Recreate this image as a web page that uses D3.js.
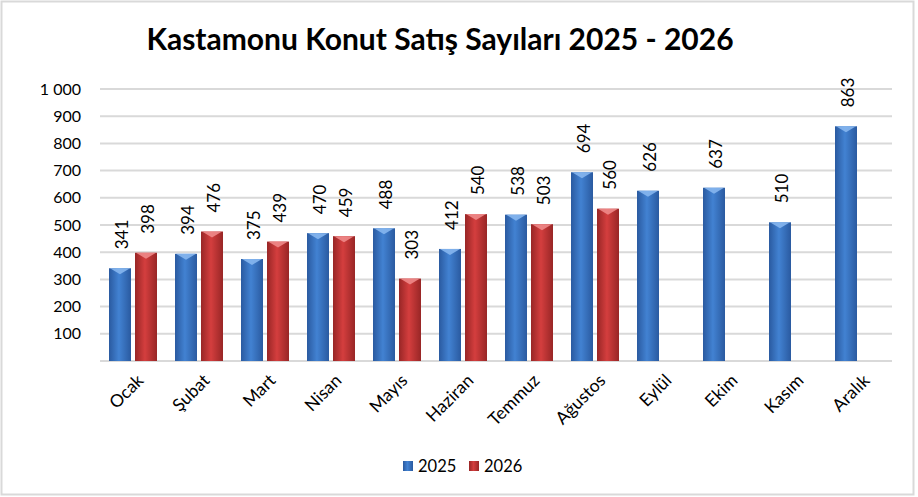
<!DOCTYPE html>
<html>
<head>
<meta charset="utf-8">
<script src="https://cdn.jsdelivr.net/npm/d3@7"></script>
<style>
  html, body { margin: 0; padding: 0; background: #fff; }
  svg { display: block; font-family: Lato, "Open Sans", sans-serif; }
</style>
</head>
<body>
<div id="chart"></div>
<script>
// Kastamonu konut satışları, 2025 vs 2026
const MONTHS = ['Ocak', 'Şubat', 'Mart', 'Nisan', 'Mayıs', 'Haziran', 'Temmuz',
  'Ağustos', 'Eylül', 'Ekim', 'Kasım', 'Aralık'];
const SALES_2025 = [341, 394, 375, 470, 488, 412, 538, 694, 626, 637, 510, 863];
const SALES_2026 = [398, 476, 439, 459, 303, 540, 503, 560, null, null, null, null];
const Y_TICKS = [100, 200, 300, 400, 500, 600, 700, 800, 900, 1000];
const SERIES = ['2025', '2026'];

const W = 918, H = 497;
const margin = { top: 89, right: 26, bottom: 136, left: 100 };
const innerW = W - margin.left - margin.right;
const innerH = H - margin.top - margin.bottom;

const svg = d3.select('#chart').append('svg')
  .attr('width', W)
  .attr('height', H);

// gradients for the bevelled bar look
const defs = svg.append('defs');
function barGradient(id, edge, mid) {
  const gr = defs.append('linearGradient').attr('id', id)
    .attr('x1', '0%').attr('x2', '100%').attr('y1', '0%').attr('y2', '0%');
  gr.append('stop').attr('offset', '0%').attr('stop-color', edge);
  gr.append('stop').attr('offset', '45%').attr('stop-color', mid);
  gr.append('stop').attr('offset', '100%').attr('stop-color', edge);
}
barGradient('g2025', '#2a5aa0', '#4282d2');
barGradient('g2026', '#982626', '#d43e3e');
const CAP = { '2025': '#86b6ee', '2026': '#ee8a8a' };

// outer frame
svg.append('rect')
  .attr('x', 1.5).attr('y', 1.5)
  .attr('width', W - 6).attr('height', H - 4)
  .attr('fill', 'none')
  .attr('stroke', '#d9d9d9')
  .attr('stroke-width', 2);

svg.append('text')
  .attr('x', 440).attr('y', 50)
  .attr('text-anchor', 'middle')
  .attr('font-size', 30)
  .attr('font-weight', 'bold')
  .attr('fill', '#000')
  .text('Kastamonu Konut Satış Sayıları 2025 - 2026');

const g = svg.append('g').attr('transform', `translate(${margin.left},${margin.top})`);

const x = d3.scaleBand().domain(MONTHS).range([0, innerW]).paddingInner(0).paddingOuter(0);
const y = d3.scaleLinear().domain([0, 1000]).range([innerH, 0]);

const barW = 22, barGap = 4;
const xs = d3.scaleOrdinal().domain(SERIES)
  .range([-(barW + barGap / 2), barGap / 2]);

// gridlines
g.selectAll('line.grid')
  .data([0].concat(Y_TICKS))
  .enter().append('line')
  .attr('class', 'grid')
  .attr('x1', 0).attr('x2', innerW)
  .attr('y1', d => y(d)).attr('y2', d => y(d))
  .attr('stroke', '#d9d9d9')
  .attr('stroke-width', 2);

// y labels
const fmt = v => d3.format(',')(v).replace(',', ' ');
g.selectAll('text.ytick')
  .data(Y_TICKS)
  .enter().append('text')
  .attr('class', 'ytick')
  .attr('x', -19)
  .attr('y', d => y(d))
  .attr('dy', '0.35em')
  .attr('text-anchor', 'end')
  .attr('font-size', 16)
  .attr('fill', '#000')
  .text(fmt);

// flatten bars
const bars = [];
MONTHS.forEach((m, i) => {
  if (SALES_2025[i] != null) bars.push({ month: m, series: '2025', value: SALES_2025[i] });
  if (SALES_2026[i] != null) bars.push({ month: m, series: '2026', value: SALES_2026[i] });
});

const barX = d => x(d.month) + x.bandwidth() / 2 + xs(d.series);

const bg = g.selectAll('g.bar').data(bars).enter().append('g').attr('class', 'bar');

bg.append('rect')
  .attr('x', barX)
  .attr('y', d => y(d.value))
  .attr('width', barW)
  .attr('height', d => innerH - y(d.value))
  .attr('fill', d => `url(#g${d.series})`);

// top bevel
bg.append('path')
  .attr('d', d => {
    const x0 = barX(d), yt = y(d.value);
    return `M${x0 + 1},${yt}L${x0 + barW - 1},${yt}L${x0 + barW / 2},${yt + 6}Z`;
  })
  .attr('fill', d => CAP[d.series])
  .attr('opacity', 0.9);

// value labels, rotated
bg.append('text')
  .attr('transform', d => `translate(${barX(d) + barW / 2 + 8},${y(d.value) - 19}) rotate(-90)`)
  .attr('text-anchor', 'start')
  .attr('font-size', 17)
  .attr('fill', '#000')
  .text(d => d.value);

// month labels, 45°
g.selectAll('text.xtick')
  .data(MONTHS)
  .enter().append('text')
  .attr('class', 'xtick')
  .attr('transform', d => `translate(${x(d) + x.bandwidth() / 2 + 3},${innerH + 12}) rotate(-45)`)
  .attr('text-anchor', 'end')
  .attr('dy', '0.7em')
  .attr('font-size', 17.5)
  .attr('fill', '#000')
  .text(d => d);

// legend
const legend = svg.append('g').attr('transform', 'translate(403,466)');
const li = legend.selectAll('g').data(SERIES).enter().append('g')
  .attr('transform', (d, i) => `translate(${i * 66},0)`);
li.append('rect')
  .attr('x', 0).attr('y', -5)
  .attr('width', 10).attr('height', 10)
  .attr('fill', d => `url(#g${d})`);
li.append('text')
  .attr('x', 15).attr('y', 0)
  .attr('dy', '0.35em')
  .attr('font-size', 16.5)
  .attr('fill', '#000')
  .text(d => d);
</script>
</body>
</html>
